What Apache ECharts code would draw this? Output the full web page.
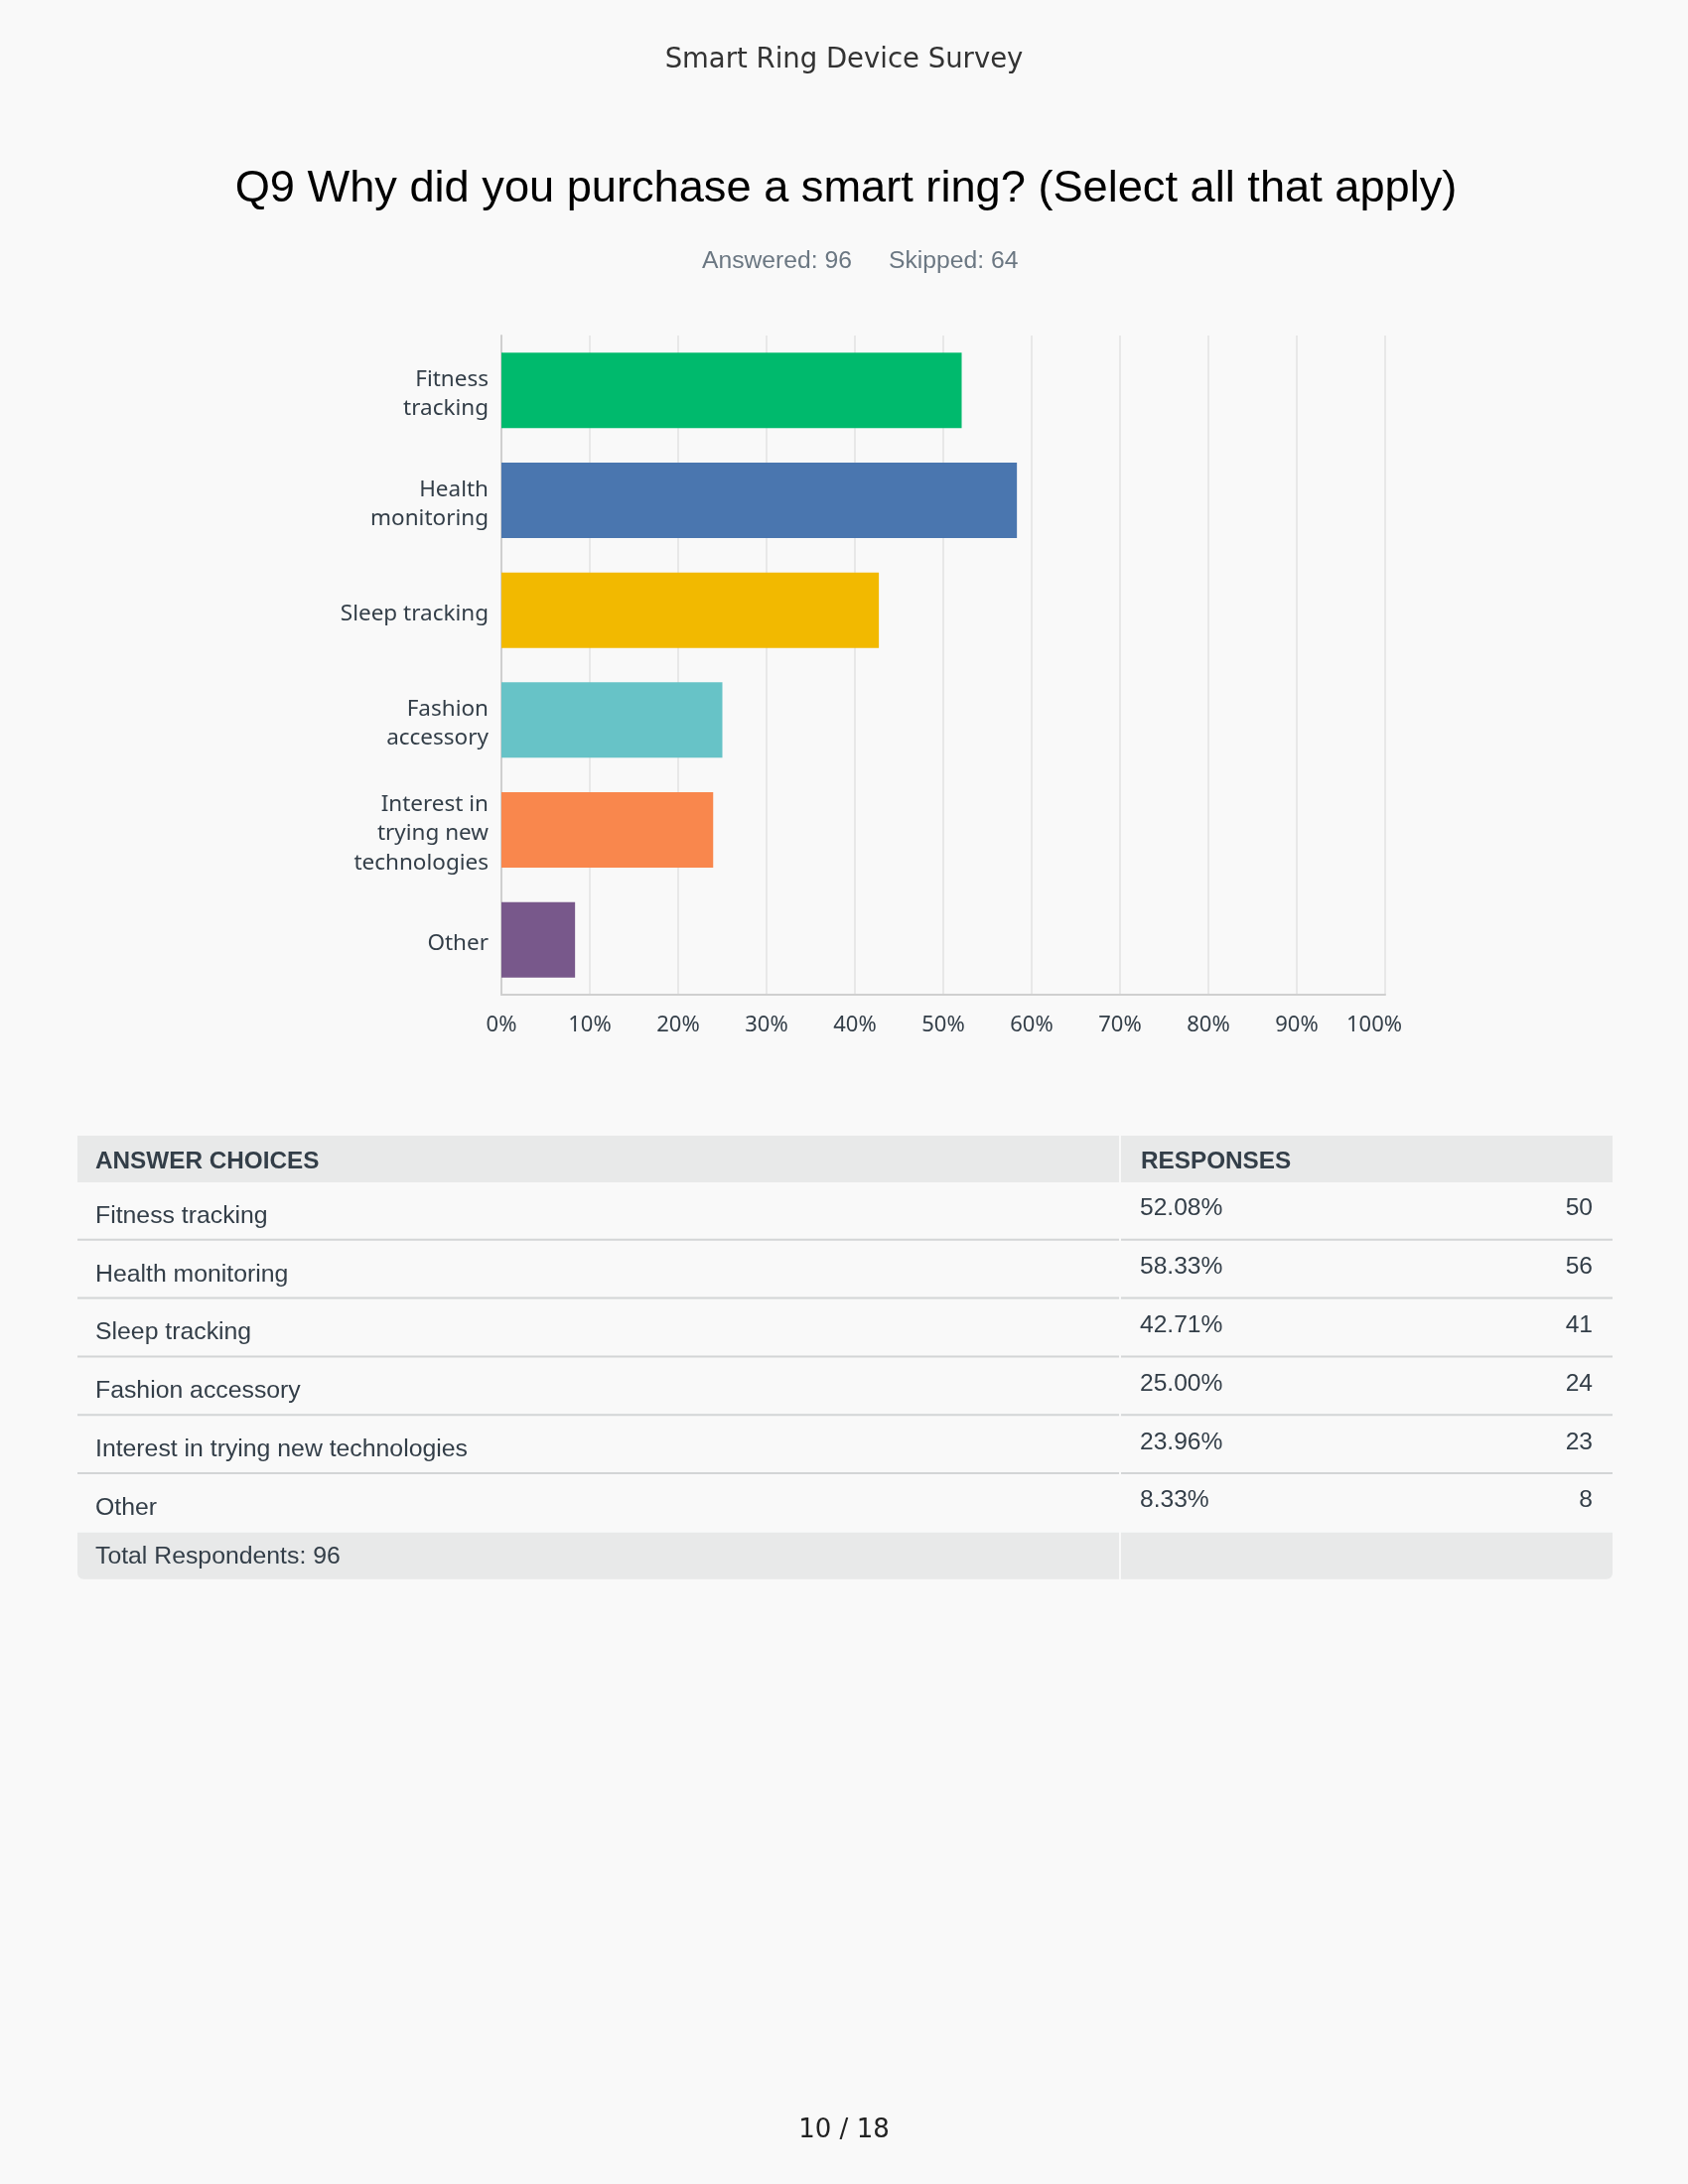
<!DOCTYPE html>
<html>
<head>
<meta charset="utf-8">
<title>Smart Ring Device Survey - Q9</title>
<script src="https://cdn.jsdelivr.net/npm/echarts@6/dist/echarts.min.js"></script>
<style>
  html, body { margin: 0; padding: 0; background: #f9f9f9; }
  #main { width: 1700px; height: 2200px; }
</style>
</head>
<body>
<div id="main"></div>
<script>
// survey data
var categories = ['Fitness tracking', 'Health monitoring', 'Sleep tracking', 'Fashion accessory', 'Interest in trying new technologies', 'Other'];
var axisLabels = ['Fitness\ntracking', 'Health\nmonitoring', 'Sleep tracking', 'Fashion\naccessory', 'Interest in\ntrying new\ntechnologies', 'Other'];
var percents = [52.08, 58.33, 42.71, 25.00, 23.96, 8.33];
var counts = [50, 56, 41, 24, 23, 8];
var barColors = ['#00ba6d', '#4a76af', '#f2b900', '#67c3c7', '#f9874d', '#78588b'];
var answered = 96;
var skipped = 64;
var pageNo = '10 / 18';

var chart = echarts.init(document.getElementById('main'));

var tableFont = '"Liberation Sans", Arial, sans-serif';
var textColor = '#333e48';

// table geometry
var tLeft = 78, tRight = 1624, tSplit = 1128;
var headTop = 1144, headH = 47;
var rowTop0 = headTop + headH, rowH = 58.8;

function txt(x, y, text, size, opts) {
  opts = opts || {};
  return {
    type: 'text',
    x: x,
    y: y,
    silent: true,
    style: {
      text: text,
      font: (opts.weight || 'normal') + ' ' + size + 'px ' + (opts.family || tableFont),
      fill: opts.color || textColor,
      align: opts.align || 'left',
      verticalAlign: 'middle'
    }
  };
}

var graphics = [];

// page header
graphics.push(txt(850, 60.5, 'Smart Ring Device Survey', 27.5, { family: '"DejaVu Sans", sans-serif', color: '#333333', align: 'center' }));
graphics.push(txt(852, 190.5, 'Q9 Why did you purchase a smart ring? (Select all that apply)', 45.2, { color: '#000000', align: 'center' }));
graphics.push(txt(707, 263, 'Answered: ' + answered, 24.7, { color: '#6b7782' }));
graphics.push(txt(895, 263, 'Skipped: ' + skipped, 24.7, { color: '#6b7782' }));

// table header
graphics.push({ type: 'rect', silent: true, shape: { x: tLeft, y: headTop, width: tSplit - 1 - tLeft, height: headH }, style: { fill: '#e8e9e9' } });
graphics.push({ type: 'rect', silent: true, shape: { x: tSplit + 1, y: headTop, width: tRight - tSplit - 1, height: headH }, style: { fill: '#e8e9e9' } });
graphics.push(txt(96, 1170, 'ANSWER CHOICES', 24.3, { weight: 'bold' }));
graphics.push(txt(1149, 1170, 'RESPONSES', 24.3, { weight: 'bold' }));

// table rows
categories.forEach(function (name, i) {
  var top = rowTop0 + i * rowH;
  graphics.push(txt(96, top + 34, name, 24.8));
  graphics.push(txt(1148, top + 26.6, percents[i].toFixed(2) + '%', 24.6));
  graphics.push(txt(1604, top + 26.6, String(counts[i]), 24.6, { align: 'right' }));
  if (i < categories.length - 1) {
    var ly = top + rowH - 1;
    graphics.push({ type: 'line', silent: true, shape: { x1: tLeft, y1: ly, x2: tSplit - 1, y2: ly }, style: { stroke: '#d3d5d6', lineWidth: 2 } });
    graphics.push({ type: 'line', silent: true, shape: { x1: tSplit + 1, y1: ly, x2: tRight, y2: ly }, style: { stroke: '#d3d5d6', lineWidth: 2 } });
  }
});

// total row
var totTop = rowTop0 + categories.length * rowH;
graphics.push({ type: 'rect', silent: true, shape: { x: tLeft, y: totTop, width: tSplit - 1 - tLeft, height: 47, r: [0, 0, 0, 6] }, style: { fill: '#e8e9e9' } });
graphics.push({ type: 'rect', silent: true, shape: { x: tSplit + 1, y: totTop, width: tRight - tSplit - 1, height: 47, r: [0, 0, 6, 0] }, style: { fill: '#e8e9e9' } });
graphics.push(txt(96, totTop + 24, 'Total Respondents: ' + answered, 24.8));

// page number
graphics.push(txt(850, 2146.5, pageNo, 26, { family: '"DejaVu Sans", sans-serif', color: '#222222', align: 'center' }));

var option = {
  backgroundColor: '#f9f9f9',
  animation: false,
  grid: {
    left: 505,
    right: 305,
    top: 338,
    bottom: 1198,
    containLabel: false
  },
  xAxis: {
    type: 'value',
    min: 0,
    max: 100,
    interval: 10,
    axisLine: { show: true, lineStyle: { color: '#cfcfcf', width: 2 } },
    axisTick: { show: false },
    splitLine: { show: true, lineStyle: { color: '#e8e8e8', width: 2 } },
    axisLabel: {
      formatter: function (v) {
        // the last label sits a bit left of its gridline in the original
        return v === 100 ? '{last|' + v + '%}' : v + '%';
      },
      rich: {
        last: {
          fontFamily: '"Noto Sans", sans-serif',
          fontSize: 22,
          color: textColor,
          padding: [0, 22, 0, 0]
        }
      },
      fontFamily: '"Noto Sans", sans-serif',
      fontSize: 22,
      color: textColor,
      margin: 20
    }
  },
  yAxis: {
    type: 'category',
    inverse: true,
    data: axisLabels,
    axisLine: { show: true, lineStyle: { color: '#cfcfcf', width: 2 } },
    axisTick: { show: false },
    splitLine: { show: false },
    axisLabel: {
      // a short empty first line nudges the label block down a little
      formatter: function (v) {
        return '{pad| }\n' + v;
      },
      rich: {
        pad: { fontSize: 4, lineHeight: 8 }
      },
      fontFamily: '"Noto Sans", sans-serif',
      fontSize: 22.5,
      lineHeight: 29.5,
      color: textColor,
      align: 'right',
      margin: 13
    }
  },
  series: [{
    type: 'bar',
    barWidth: 76,
    data: percents.map(function (v, i) {
      return { value: v, itemStyle: { color: barColors[i] } };
    })
  }],
  graphic: graphics
};

chart.setOption(option);
</script>
</body>
</html>
